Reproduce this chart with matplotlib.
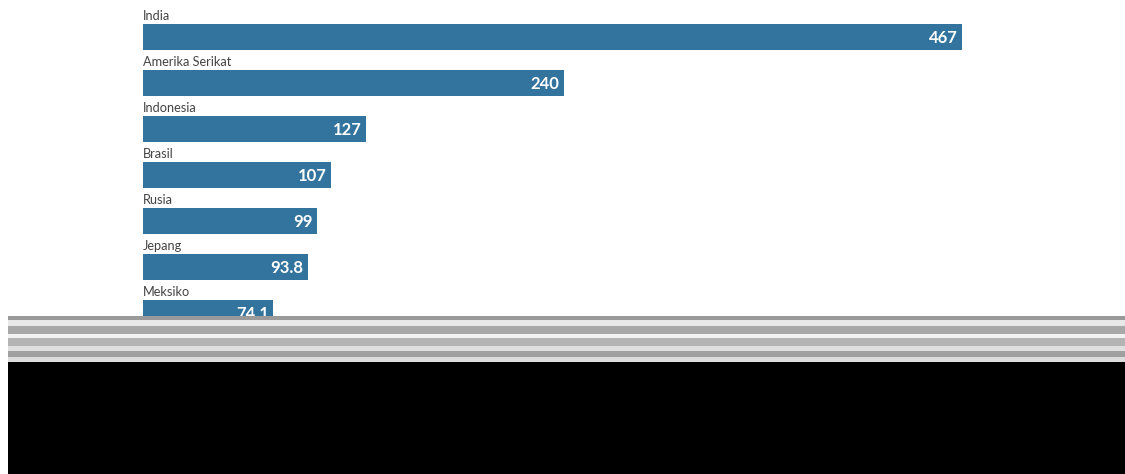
import matplotlib
matplotlib.use("Agg")
import matplotlib.pyplot as plt
from matplotlib.patches import Rectangle

countries = ["India", "Amerika Serikat", "Indonesia", "Brasil", "Rusia", "Jepang", "Meksiko"]
values = [467, 240, 127, 107, 99, 93.8, 74.1]
value_labels = ["467", "240", "127", "107", "99", "93.8", "74.1"]

W, H, DPI = 1125, 474, 100
BAR_COLOR = "#33749e"
plt.rcParams['font.family'] = ['Lato', 'DejaVu Sans']

fig = plt.figure(figsize=(W / DPI, H / DPI), dpi=DPI, facecolor="white")
left_px, px_per_unit = 143, (962 - 143) / 467
ax = fig.add_axes([left_px / W, 0, (W - left_px) / W, 1])
ax.set_xlim(0, (W - left_px) / px_per_unit)
step, first_center = 46, 37
ax.set_ylim((H - first_center) / step, -first_center / step)
ax.axis("off")

bar_h = 26 / step
ys = list(range(len(countries)))
ax.barh(ys, values, height=bar_h, color=BAR_COLOR, edgecolor="none")
for y, name, v, lab in zip(ys, countries, values, value_labels):
    ax.text(0, y - 16.5 / step, name, ha="left", va="baseline",
            fontsize=9.2, color="#444444")
    ax.annotate(lab, xy=(v, y), xytext=(-3, -0.5), textcoords="offset points",
                ha="right", va="center", fontsize=12, fontweight="bold",
                color="white")

# corrupted lower region of the reference image
fig.patches.append(Rectangle((8 / W, 0), (W - 8) / W, (H - 362) / H,
                             transform=fig.transFigure, facecolor="black",
                             edgecolor="none", zorder=10))
stripes = [(316, 4, "#9a9a9a"), (320, 6, "#e8e8e8"), (326, 8, "#a8a8a8"),
           (334, 4, "#f2f2f2"), (338, 8, "#b4b4b4"), (346, 5, "#e0e0e0"),
           (351, 6, "#a0a0a0"), (357, 5, "#dcdcdc")]
for top, h, c in stripes:
    fig.patches.append(Rectangle((8 / W, (H - top - h) / H), (W - 8) / W, h / H,
                                 transform=fig.transFigure, facecolor=c,
                                 edgecolor="none", zorder=10))

fig.savefig("out.png", dpi=DPI, facecolor="white")
